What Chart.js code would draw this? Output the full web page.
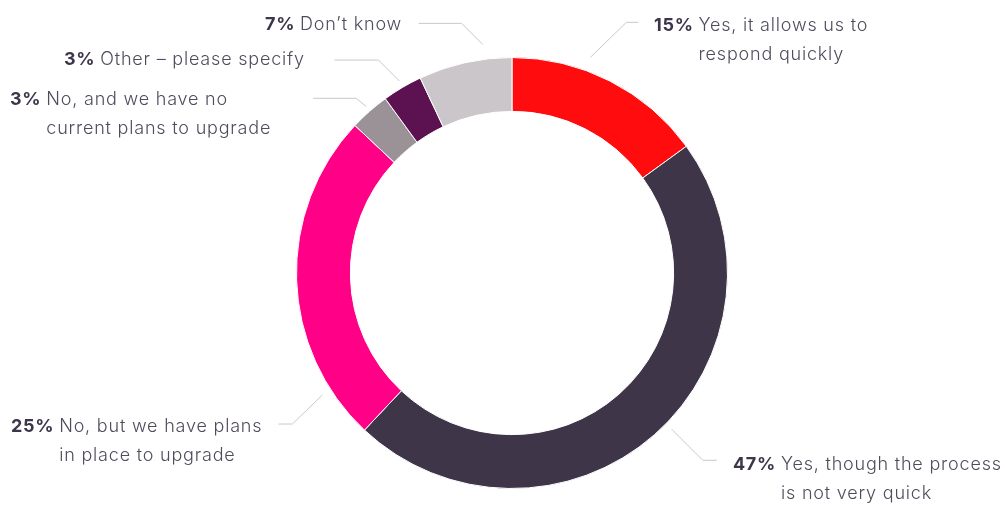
<!DOCTYPE html>
<html>
<head>
<meta charset="utf-8">
<script src="https://cdn.jsdelivr.net/npm/chart.js@4.4.1/dist/chart.umd.min.js"></script>
<style>
  html, body { margin: 0; padding: 0; background: #fff; }
  #wrap { width: 1005px; height: 506px; }
</style>
</head>
<body>
<div id="wrap"><canvas id="chart"></canvas></div>
<script>
// data
const categories = [
    'Yes, it allows us to respond quickly',
    'Yes, though the process is not very quick',
    'No, but we have plans in place to upgrade',
    'No, and we have no current plans to upgrade',
    'Other – please specify',
    'Don’t know'
];
const shares = [15, 47, 25, 3, 3, 7];
const labelLines = [
    ['Yes, it allows us to', 'respond quickly'],
    ['Yes, though the process', 'is not very quick'],
    ['No, but we have plans', 'in place to upgrade'],
    ['No, and we have no', 'current plans to upgrade'],
    ['Other – please specify'],
    ['Don’t know']
];

const sliceColors = ['#fe0c0e', '#3e3549', '#ff0087', '#9b9298', '#5c1150', '#cbc6ca'];

// where each callout sits: point on the slice, elbow, tail, text
const callouts = [
    { at: 0.37, gap: 14, elbow: [36, -35], tail: 12, text: [654, 26] },
    { at: 0.475, gap: 8, elbow: [31, 31], tail: 14, text: [733, 465] },
    { at: 0.156, gap: 10, elbow: [-30, 29], tail: -14, text: [11, 427] },
    { at: 0.52, gap: 6, elbow: [-10, -8], tail: -43, text: [10, 100] },
    { at: 0.52, gap: 7, elbow: [-21, -21], tail: -44, text: [64, 60] },
    { at: 0.71, gap: 15, elbow: [-21, -21], tail: -43, text: [265, 25] }
];

const FONT = 'Inter, "Noto Sans", sans-serif';

const calloutPlugin = {
    id: 'callouts',
    afterDatasetsDraw(chart) {
        const ctx = chart.ctx;
        const arcs = chart.getDatasetMeta(0).data;
        ctx.save();
        arcs.forEach((arc, i) => {
            const c = callouts[i];
            const a = arc.startAngle + c.at * (arc.endAngle - arc.startAngle);
            const r = arc.outerRadius + c.gap;
            const sx = arc.x + r * Math.cos(a);
            const sy = arc.y + r * Math.sin(a);
            const ex = sx + c.elbow[0];
            const ey = sy + c.elbow[1];

            ctx.strokeStyle = '#c9c9c9';
            ctx.lineWidth = 1;
            ctx.beginPath();
            ctx.moveTo(sx, sy);
            ctx.lineTo(ex, ey);
            ctx.lineTo(ex + c.tail, ey);
            ctx.stroke();

            const pct = shares[i] + '%';
            const lines = labelLines[i];
            ctx.textBaseline = 'middle';
            ctx.textAlign = 'left';
            ctx.letterSpacing = '0.7px';
            ctx.font = '700 18px ' + FONT;
            ctx.fillStyle = '#3d3549';
            ctx.fillText(pct, c.text[0], c.text[1]);
            const pw = ctx.measureText(pct + ' ').width;
            ctx.letterSpacing = '0.8px';
            ctx.font = '300 18px ' + FONT;
            ctx.fillStyle = '#514b5c';
            ctx.fillText(lines[0], c.text[0] + pw, c.text[1]);
            if (lines[1]) {
                ctx.fillText(lines[1], c.text[0] + pw, c.text[1] + 29);
            }
        });
        ctx.restore();
    }
};

new Chart(document.getElementById('chart'), {
    type: 'doughnut',
    data: {
        labels: categories,
        datasets: [{
            data: shares,
            backgroundColor: sliceColors,
            borderColor: '#ffffff',
            borderWidth: 1,
            hoverOffset: 0
        }]
    },
    options: {
        responsive: true,
        maintainAspectRatio: false,
        animation: false,
        cutout: '75%',
        layout: { padding: { top: 57, bottom: 17, left: 19, right: 0 } },
        plugins: {
            legend: { display: false },
            tooltip: { enabled: false }
        }
    },
    plugins: [calloutPlugin]
});
</script>
</body>
</html>
